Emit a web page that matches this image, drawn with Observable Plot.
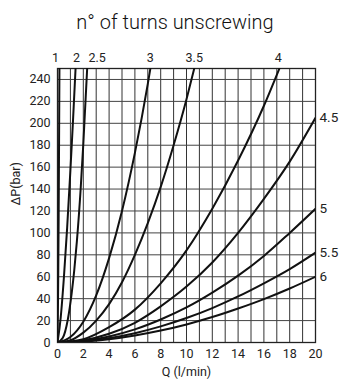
<!DOCTYPE html>
<html>
<head>
<meta charset="utf-8">
<script src="https://cdn.jsdelivr.net/npm/d3@7"></script>
<script src="https://cdn.jsdelivr.net/npm/@observablehq/plot@0.6"></script>
<style>
  html, body { margin: 0; padding: 0; background: #fff; }
  #title { font-family: Roboto, "Liberation Sans", sans-serif; font-size: 20px; font-weight: 300; color: #111;
           height: 40px; line-height: 20px; padding-top: 12px; box-sizing: border-box;
           text-align: center; padding-left: 10px; }
  svg { display: block; }
</style>
</head>
<body>
<div id="title">n° of turns unscrewing</div>
<div id="chart"></div>
<script>
// ---- data ----
const title = "n° of turns unscrewing";
const xLabel = "Q (l/min)";
const yLabel = "∆P(bar)";
const xTicks = [0, 2, 4, 6, 8, 10, 12, 14, 16, 18, 20];
const yTicks = [0, 20, 40, 60, 80, 100, 120, 140, 160, 180, 200, 220, 240];
const xGrid = [0, 1, 2, 3, 4, 5, 6, 7, 8, 9, 10, 11, 12, 13, 14, 15, 16, 17, 18, 19, 20];
const yGrid = [0, 20, 40, 60, 80, 100, 120, 140, 160, 180, 200, 220, 240, 250];

const turns = ["1", "2", "2.5", "3", "3.5", "4", "4.5", "5", "5.5", "6"];
const q1 = [0, 0.03, 0.06, 0.09, 0.12, 0.15];
const p1 = [0, 25, 65, 115, 180, 250];
const q2 = [0, 0.25, 0.5, 0.75, 1.0, 1.2, 1.4];
const p2 = [0, 23, 60, 105, 157, 202, 250];
const q25 = [0, 0.4, 0.8, 1.1, 1.3, 1.5, 1.8, 2.0, 2.3];
const p25 = [0, 4, 21, 45, 66, 92, 141, 181, 250];
const q3 = [0, 1, 2, 3, 4, 5, 6, 7, 7.2];
const p3 = [0, 5, 19, 43, 77, 120, 173, 236, 250];
const q35 = [0, 1, 2, 3, 4, 5, 6, 7, 8, 9, 10, 10.6];
const p35 = [0, 2, 9, 20, 35, 55, 80, 109, 142, 180, 222, 250];
const q4 = [0, 2, 4, 6, 8, 10, 12, 14, 16, 17.2];
const p4 = [0, 3, 14, 30, 54, 84, 122, 166, 216, 250];
const qLow = [0, 2, 4, 6, 8, 10, 12, 14, 16, 18, 20];
const p45 = [0, 2, 8, 18, 33, 51, 73, 100, 131, 165, 205];
const p5 = [0, 1.4, 5.5, 12, 21, 32, 45.5, 61, 79, 100, 122];
const p55 = [0, 1.1, 4, 8.5, 14.7, 22.3, 31.4, 42, 54, 67, 82];
const p6 = [0, 0.8, 3, 6.4, 10.9, 16.5, 23.2, 31, 39.6, 49.3, 60];

// ---- build table ----
const seriesQ = [q1, q2, q25, q3, q35, q4, qLow, qLow, qLow, qLow];
const seriesP = [p1, p2, p25, p3, p35, p4, p45, p5, p55, p6];
const rows = [];
turns.forEach((t, i) => seriesQ[i].forEach((q, j) => rows.push({turn: t, q, p: seriesP[i][j]})));
const ends = turns.map((t, i) => ({turn: t, q: seriesQ[i][seriesQ[i].length - 1], p: seriesP[i][seriesP[i].length - 1]}));
const topLabels = ends.filter(d => d.p >= 250);
const rightLabels = ends.filter(d => d.p < 250);
const topDx = {"1": -4, "2": 1, "2.5": 10, "3": 0, "3.5": 0, "4": -1};

const chart = Plot.plot({
  width: 340,
  height: 343,
  marginLeft: 57,
  marginRight: 25,
  marginTop: 28,
  marginBottom: 41,
  style: {fontFamily: "Roboto, 'Liberation Sans', sans-serif", fontSize: "12px", color: "#222", background: "#fff"},
  x: {domain: [0, 20]},
  y: {domain: [0, 250]},
  marks: [
    Plot.ruleX(xGrid, {stroke: "#333", strokeWidth: 1}),
    Plot.ruleY(yGrid, {stroke: "#444", strokeWidth: 1}),
    Plot.frame({stroke: "#222", strokeWidth: 1.3}),
    Plot.axisX({ticks: xTicks, tickSize: 0, tickPadding: 7, label: null, fontSize: 12.5}),
    Plot.axisY({ticks: yTicks, tickSize: 0, tickPadding: 7, label: null, fontSize: 12.5}),
    Plot.line(rows, {x: "q", y: "p", z: "turn", stroke: "#111", strokeWidth: 2, curve: "monotone-x", clip: true}),
    ...topLabels.map(d => Plot.text([d], {x: "q", y: "p", text: "turn", dy: -11, dx: topDx[d.turn], fontSize: 12.5, fill: "#222"})),
    Plot.text(rightLabels, {x: "q", y: "p", text: "turn", dx: 4, textAnchor: "start", fontSize: 13.5, fill: "#222"}),
    Plot.text([xLabel], {frameAnchor: "bottom", dy: 33, text: d => d, fontSize: 12.5, fill: "#222"}),
    Plot.text([yLabel], {frameAnchor: "left", dx: -42, rotate: -90, text: d => d, fontSize: 12.5, fill: "#222"})
  ]
});
document.getElementById("title").textContent = title;
document.getElementById("chart").append(chart);
</script>
</body>
</html>
